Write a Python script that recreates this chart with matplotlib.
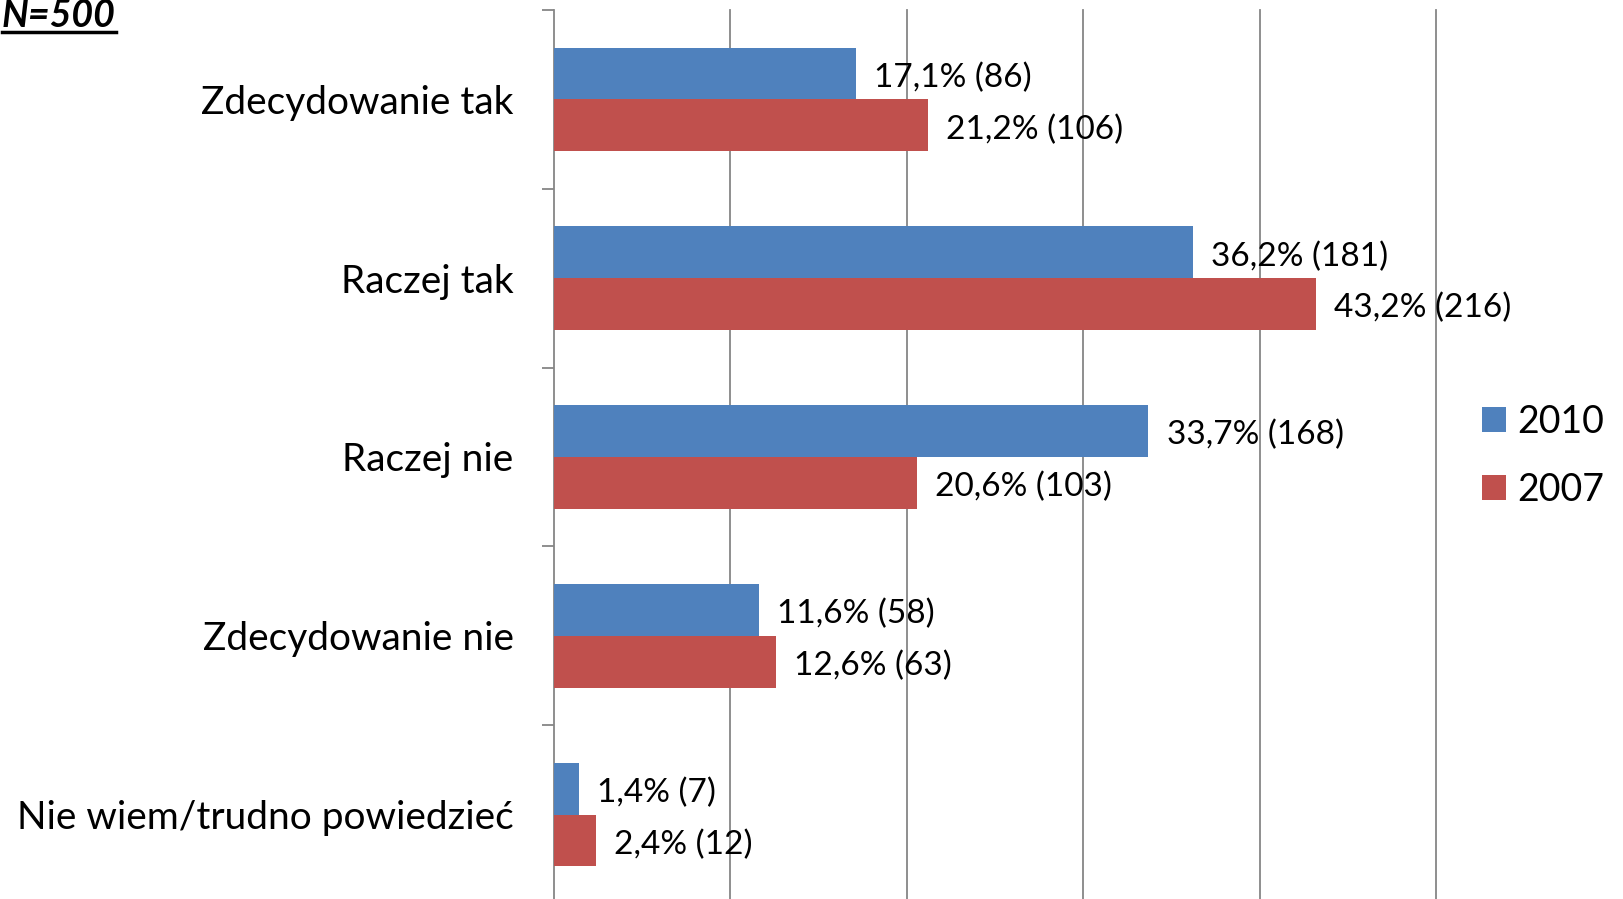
import matplotlib
matplotlib.use('Agg')
import matplotlib.pyplot as plt
from matplotlib.lines import Line2D
import numpy as np

plt.rcParams['font.family'] = ['Lato', 'DejaVu Sans']

# data
categories = ['Zdecydowanie tak', 'Raczej tak', 'Raczej nie', 'Zdecydowanie nie',
              'Nie wiem/trudno powiedzieć']
pct_2010 = [17.1, 36.2, 33.7, 11.6, 1.4]
cnt_2010 = [86, 181, 168, 58, 7]
pct_2007 = [21.2, 43.2, 20.6, 12.6, 2.4]
cnt_2007 = [106, 216, 103, 63, 12]
series_names = ['2010', '2007']

blue = '#4F81BD'
red = '#C0504D'
grid_col = '#868686'

W, H = 1623, 899
fig = plt.figure(figsize=(W / 100, H / 100), dpi=100)
ax = fig.add_axes([554 / W, 1 - 904 / H, (1436 - 554) / W, (904 - 10) / H])

y = np.arange(len(categories))
h = 0.29
b1 = ax.barh(y - h / 2, pct_2010, height=h, color=blue, label=series_names[0], zorder=3)
b2 = ax.barh(y + h / 2, pct_2007, height=h, color=red, label=series_names[1], zorder=3)

def fmt(p, n):
    return ('%.1f' % p).replace('.', ',') + '% (' + str(n) + ')'

for bars, pcts, cnts in [(b1, pct_2010, cnt_2010), (b2, pct_2007, cnt_2007)]:
    for rect, p, n in zip(bars, pcts, cnts):
        ax.annotate(fmt(p, n), (rect.get_width(), rect.get_y() + rect.get_height() / 2),
                    xytext=(13, -3), textcoords='offset points', va='center', ha='left',
                    fontsize=24, zorder=4)

ax.set_xlim(0, 50)
ax.set_ylim(len(categories) - 0.5, -0.5)
ax.set_xticks([10, 20, 30, 40, 50])
ax.xaxis.grid(True, color=grid_col, linewidth=1.3, zorder=0)
ax.tick_params(axis='x', length=0, labelbottom=False)

ax.set_yticks(y)
ax.set_yticklabels(categories, fontsize=28)
ax.set_yticks(np.arange(-0.5, len(categories)), minor=True)
ax.tick_params(axis='y', which='major', length=0, pad=29)
ax.tick_params(axis='y', which='minor', length=9, width=1.3, color=grid_col, direction='out')

for s in ['top', 'right', 'bottom']:
    ax.spines[s].set_visible(False)
ax.spines['left'].set_color(grid_col)
ax.spines['left'].set_linewidth(1.3)
for gl in ax.xaxis.get_gridlines():
    gl.set_clip_on(False)

leg = fig.legend(handles=[b1, b2], labels=series_names, loc='center left',
                 bbox_to_anchor=(1482 / W, 1 - 456 / H), frameon=False, fontsize=27,
                 borderpad=0, borderaxespad=0,
                 handlelength=0.65, handleheight=0.65, handletextpad=0.28, labelspacing=0.85)

t = fig.text(2 / W, 1 + 2 / H, 'N=500', fontsize=27, fontweight='bold', style='italic',
             ha='left', va='top')
fig.canvas.draw()
bb = t.get_window_extent()
uy = 1 - 32 / H
fig.add_artist(Line2D([bb.x0 / W, bb.x1 / W], [uy, uy], color='black', linewidth=2.5,
                      transform=fig.transFigure))

fig.savefig('out.png', dpi=100)
